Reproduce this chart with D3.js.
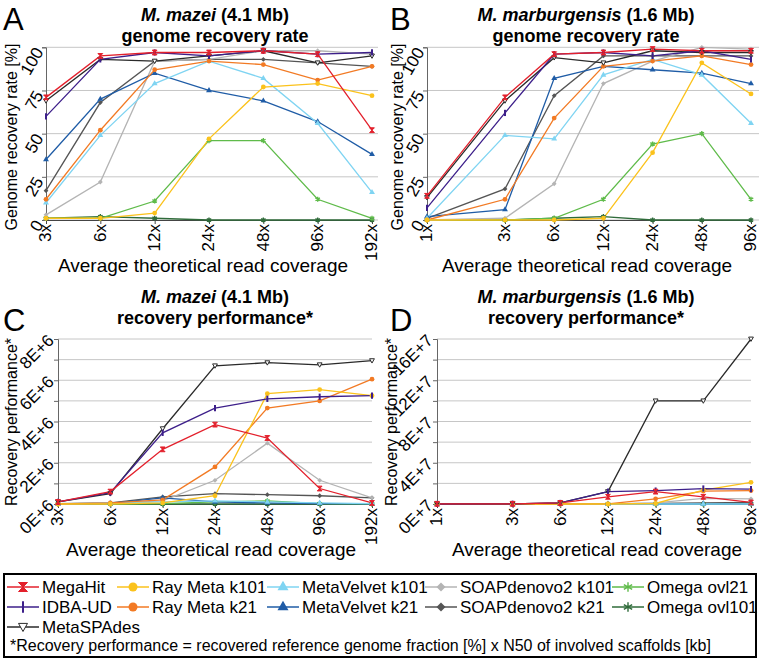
<!DOCTYPE html>
<html>
<head>
<meta charset="utf-8">
<script src="https://cdn.jsdelivr.net/npm/d3@7"></script>
<style>
body { margin: 0; background: #fff; }
text { font-family: "Liberation Sans", Arial, sans-serif; fill: #000; }
</style>
</head>
<body>
<svg id="chart" width="760" height="661"></svg>
<script>
// assemblers, in legend order
var assemblers = ["MegaHit", "IDBA-UD", "MetaSPAdes", "Ray Meta k101", "Ray Meta k21",
    "MetaVelvet k101", "MetaVelvet k21", "SOAPdenovo2 k101", "SOAPdenovo2 k21",
    "Omega ovl21", "Omega ovl101"];

var coverageMazei = [3, 6, 12, 24, 48, 96, 192];
var coverageMarb = [1, 3, 6, 12, 24, 48, 96];

// A: M. mazei genome recovery rate [%]
var rateMazei = [
    [71, 95, 97, 97, 98, 96, 52],   // MegaHit
    [60, 93, 97, 95, 98, 96, 97],   // IDBA-UD
    [69, 93, 92, 95, 98, 91, 95],   // MetaSPAdes
    [1, 1, 4, 47, 77, 79, 72],      // Ray Meta k101
    [12, 52, 87, 92, 90, 81, 89],   // Ray Meta k21
    [10, 49, 79, 92, 82, 56, 16],   // MetaVelvet k101
    [35, 70, 85, 75, 69, 57, 38],   // MetaVelvet k21
    [3, 22, 92, 93, 98, 98, 96],    // SOAPdenovo2 k101
    [17, 68, 92, 93, 93, 91, 89],   // SOAPdenovo2 k21
    [1, 1, 11, 46, 46, 12, 1],      // Omega ovl21
    [1, 2, 1, 0, 0, 0, 0]           // Omega ovl101
];

// B: M. marburgensis genome recovery rate [%]
var rateMarb = [
    [14, 71, 96, 97, 99, 98, 98],
    [7, 62, 96, 97, 95, 98, 93],
    [13, 69, 94, 91, 98, 97, 97],
    [0, 0, 0, 1, 39, 91, 73],
    [0, 12, 59, 89, 92, 95, 90],
    [1, 49, 47, 84, 93, 84, 56],
    [2, 6, 82, 89, 87, 85, 79],
    [0, 1, 21, 79, 92, 100, 99],
    [1, 18, 72, 95, 95, 95, 95],
    [0, 0, 1, 12, 44, 50, 12],
    [0, 0, 1, 2, 0, 0, 0]
];

// C: M. mazei recovery performance
var perfMazei = [
    [0.1e6, 0.6e6, 2.65e6, 3.85e6, 3.2e6, 0.75e6, 0.05e6],
    [0.1e6, 0.55e6, 3.45e6, 4.65e6, 5.1e6, 5.2e6, 5.25e6],
    [0.1e6, 0.5e6, 3.65e6, 6.7e6, 6.85e6, 6.75e6, 6.95e6],
    [0, 0, 0.05e6, 0.4e6, 5.35e6, 5.55e6, 5.25e6],
    [0, 0.05e6, 0.2e6, 1.8e6, 4.65e6, 5.0e6, 6.05e6],
    [0, 0.05e6, 0.1e6, 0.15e6, 0.1e6, 0.05e6, 0.02e6],
    [0, 0.03e6, 0.3e6, 0.1e6, 0.05e6, 0.02e6, 0.01e6],
    [0, 0.02e6, 0.15e6, 1.15e6, 2.95e6, 1.15e6, 0.3e6],
    [0.02e6, 0.05e6, 0.35e6, 0.5e6, 0.45e6, 0.4e6, 0.3e6],
    [0, 0, 0.02e6, 0.1e6, 0.15e6, 0.02e6, 0],
    [0, 0, 0, 0, 0, 0, 0]
];

// D: M. marburgensis recovery performance
var perfMarb = [
    [0.02e7, 0.02e7, 0.1e7, 0.7e7, 1.2e7, 0.7e7, 0.15e7],
    [0, 0.02e7, 0.1e7, 1.2e7, 1.3e7, 1.5e7, 1.45e7],
    [0.02e7, 0.02e7, 0.1e7, 1.2e7, 10e7, 10e7, 16e7],
    [0, 0, 0, 0, 0.05e7, 1.35e7, 2.1e7],
    [0, 0, 0, 0.02e7, 0.5e7, 1.25e7, 1.3e7],
    [0, 0, 0, 0, 0, 0, 0],
    [0, 0, 0, 0, 0, 0, 0],
    [0, 0, 0, 0, 0.1e7, 0.55e7, 0.5e7],
    [0, 0, 0, 0.02e7, 0.05e7, 0.1e7, 0.15e7],
    [0, 0, 0, 0, 0, 0, 0],
    [0, 0, 0, 0, 0, 0, 0]
];

var rateTicks = [0, 25, 50, 75, 100];
var perfMazeiTicks = [0, 2e6, 4e6, 6e6, 8e6];
var perfMarbTicks = [0, 4e7, 8e7, 12e7, 16e7];

var colors = ["#e3202c", "#3d1f8a", "#2a2a2a", "#fbc21c", "#f27a24", "#7fd4f2",
    "#1f5ca6", "#b4b4b4", "#555555", "#5fbb4a", "#2f6b3a"];
var shapes = ["hourglass", "bar", "triOpen", "circle", "circle", "tri", "tri",
    "diamond", "diamond", "star", "star"];

var svg = d3.select("#chart");

function marker(g, type, color, s) {
    if (type === "hourglass") {
        g.append("path")
            .attr("d", "M" + (-s) + "," + (-s) + "H" + s + "L" + (-s) + "," + s + "H" + s + "Z")
            .attr("fill", color).attr("stroke", color).attr("stroke-width", 1);
    } else if (type === "bar") {
        g.append("path").attr("d", "M0," + (-s * 1.3) + "V" + (s * 1.3))
            .attr("stroke", color).attr("stroke-width", 2);
    } else if (type === "triOpen") {
        g.append("path")
            .attr("d", "M" + (-s) + "," + (-s * 0.8) + "H" + s + "L0," + s + "Z")
            .attr("fill", "#fff").attr("stroke", color).attr("stroke-width", 1);
    } else if (type === "circle") {
        g.append("circle").attr("r", s).attr("fill", color);
    } else if (type === "tri") {
        g.append("path").attr("d", d3.symbol(d3.symbolTriangle, s * s * 2.6)).attr("fill", color);
    } else if (type === "diamond") {
        g.append("path").attr("d", "M0," + (-s) + "L" + s + ",0L0," + s + "L" + (-s) + ",0Z").attr("fill", color);
    } else if (type === "star") {
        g.append("path").attr("d", d3.symbol(d3.symbolAsterisk, s * s * 3.2))
            .attr("fill", "none").attr("stroke", color).attr("stroke-width", 1.4);
    }
}

function panel(cfg) {
    var x = d3.scaleLog().domain(d3.extent(cfg.cov)).range([cfg.left, cfg.right]);
    var y = d3.scaleLinear().domain([0, cfg.ymax]).range([cfg.bottom, cfg.top]);
    var g = svg.append("g");

    g.selectAll("line.grid")
        .data(cfg.grid)
        .enter()
        .append("line")
        .attr("class", "grid")
        .attr("x1", cfg.left).attr("x2", cfg.right + cfg.gridExtra)
        .attr("y1", function (d) { return y(d); })
        .attr("y2", function (d) { return y(d); })
        .attr("stroke", "#c6c6c6").attr("stroke-width", 1);

    var ya = g.append("g")
        .attr("transform", "translate(" + cfg.left + ",0)")
        .call(d3.axisLeft(y).tickValues(cfg.grid).tickSize(4).tickFormat(function (d) {
            return cfg.yticks.indexOf(d) >= 0 ? cfg.fmt(d) : "";
        }));
    ya.attr("font-size", 17).attr("font-family", null);
    ya.select(".domain").attr("stroke", "#666");
    ya.selectAll(".tick line").attr("stroke", "#666");
    ya.selectAll("text")
        .attr("x", 0).attr("y", 0).attr("dy", 0)
        .attr("text-anchor", "end")
        .attr("transform", "translate(" + cfg.ylabDx + "," + cfg.ylabDy + ") rotate(" + cfg.yrot + ")");

    var xa = g.append("g")
        .attr("transform", "translate(0," + cfg.bottom + ")")
        .call(d3.axisBottom(x).tickValues(cfg.cov).tickSize(4).tickFormat(function (d) { return d + "x"; }));
    xa.attr("font-size", 17).attr("font-family", null);
    xa.select(".domain").attr("stroke", "#444");
    xa.selectAll(".tick line").attr("stroke", "#444");
    xa.selectAll("text")
        .attr("x", -4).attr("y", 0).attr("dy", "0.28em")
        .attr("text-anchor", "end")
        .attr("transform", "rotate(-90)");

    var line = d3.line()
        .x(function (d, i) { return x(cfg.cov[i]); })
        .y(function (d) { return y(d); });

    // draw last series first so MegaHit ends on top
    var order = d3.range(assemblers.length).reverse();
    order.forEach(function (k) {
        g.append("path")
            .datum(cfg.values[k])
            .attr("d", line)
            .attr("fill", "none")
            .attr("stroke", colors[k])
            .attr("stroke-width", 1.3);
    });
    order.forEach(function (k) {
        cfg.values[k].forEach(function (v, i) {
            var m = g.append("g").attr("transform", "translate(" + x(cfg.cov[i]) + "," + y(v) + ")");
            marker(m, shapes[k], colors[k], 2.4);
        });
    });

    // title line 1: italic species + size, laid side by side and centred
    var sp = g.append("text").attr("y", cfg.titleY)
        .attr("font-size", 18).attr("font-weight", "bold").attr("font-style", "italic")
        .text(cfg.species);
    var sz = g.append("text").attr("y", cfg.titleY)
        .attr("font-size", 18).attr("font-weight", "bold")
        .text(cfg.size);
    var w1 = sp.node().getComputedTextLength(), w2 = sz.node().getComputedTextLength(), gap = 5;
    var x0 = cfg.cx - (w1 + gap + w2) / 2;
    sp.attr("x", x0);
    sz.attr("x", x0 + w1 + gap);

    g.append("text").attr("x", cfg.cx).attr("y", cfg.titleY + 21)
        .attr("text-anchor", "middle").attr("font-size", 18).attr("font-weight", "bold")
        .text(cfg.subtitle);

    g.append("text").attr("x", cfg.letterX).attr("y", cfg.letterY)
        .attr("font-size", 31).text(cfg.letter);

    g.append("text").attr("x", cfg.xtitleX).attr("y", cfg.xtitleY)
        .attr("text-anchor", "middle").attr("font-size", 19)
        .text("Average theoretical read coverage");

    g.append("text")
        .attr("transform", "translate(" + cfg.ytitleX + "," + cfg.ytitleY + ") rotate(-90)")
        .attr("text-anchor", "middle").attr("font-size", 16)
        .text(cfg.ytitle);
}

panel({
    letter: "A", letterX: 3, letterY: 30,
    species: "M. mazei", size: "(4.1 Mb)", subtitle: "genome recovery rate",
    cx: 215, titleY: 21,
    cov: coverageMazei, values: rateMazei,
    left: 46, right: 372, top: 47.3, bottom: 220, ymax: 100, gridExtra: 6,
    grid: rateTicks, yticks: rateTicks, fmt: String,
    yrot: -60, ylabDx: -2, ylabDy: 4,
    xtitleX: 203, xtitleY: 272,
    ytitle: "Genome recovery rate [%]", ytitleX: 17, ytitleY: 137
});

panel({
    letter: "B", letterX: 390, letterY: 30,
    species: "M. marburgensis", size: "(1.6 Mb)", subtitle: "genome recovery rate",
    cx: 586, titleY: 21,
    cov: coverageMarb, values: rateMarb,
    left: 427, right: 751, top: 47.3, bottom: 220, ymax: 100, gridExtra: 8,
    grid: rateTicks, yticks: rateTicks, fmt: String,
    yrot: -60, ylabDx: -2, ylabDy: 4,
    xtitleX: 587, xtitleY: 272,
    ytitle: "Genome recovery rate [%]", ytitleX: 403, ytitleY: 137
});

panel({
    letter: "C", letterX: 3, letterY: 331,
    species: "M. mazei", size: "(4.1 Mb)", subtitle: "recovery performance*",
    cx: 215, titleY: 303,
    cov: coverageMazei, values: perfMazei,
    left: 58, right: 372, top: 339, bottom: 504, ymax: 8e6, gridExtra: 0,
    grid: d3.range(0, 8e6 + 1, 1e6), yticks: perfMazeiTicks,
    fmt: function (d) { return (d / 1e6) + "E+6"; },
    yrot: -45, ylabDx: -3, ylabDy: 2,
    xtitleX: 211, xtitleY: 556,
    ytitle: "Recovery performance*", ytitleX: 17, ytitleY: 422
});

panel({
    letter: "D", letterX: 390, letterY: 331,
    species: "M. marburgensis", size: "(1.6 Mb)", subtitle: "recovery performance*",
    cx: 586, titleY: 303,
    cov: coverageMarb, values: perfMarb,
    left: 437, right: 751, top: 339, bottom: 504, ymax: 16e7, gridExtra: 0,
    grid: d3.range(0, 16e7 + 1, 2e7), yticks: perfMarbTicks,
    fmt: function (d) { return (d / 1e7) + "E+7"; },
    yrot: -45, ylabDx: -3, ylabDy: 2,
    xtitleX: 597, xtitleY: 556,
    ytitle: "Recovery performance*", ytitleX: 397, ytitleY: 422
});

// legend
var legend = svg.append("g");
legend.append("rect")
    .attr("x", 4).attr("y", 574).attr("width", 752).attr("height", 83)
    .attr("fill", "#fff").attr("stroke", "#000").attr("stroke-width", 2);

var legendX = [7, 117, 267, 425, 612];
var legendY = [587, 607, 627];
var legendCol = [0, 0, 0, 1, 1, 2, 2, 3, 3, 4, 4];
var legendRow = [0, 1, 2, 0, 1, 0, 1, 0, 1, 0, 1];

assemblers.forEach(function (name, k) {
    var lx = legendX[legendCol[k]], ly = legendY[legendRow[k]];
    var item = legend.append("g").attr("transform", "translate(" + lx + "," + ly + ")");
    item.append("line").attr("x1", 0).attr("x2", 32).attr("y1", 0).attr("y2", 0)
        .attr("stroke", colors[k]).attr("stroke-width", 1.5);
    marker(item.append("g").attr("transform", "translate(16,0)"), shapes[k], colors[k], 4.5);
    item.append("text").attr("x", 35).attr("y", 6).attr("font-size", 17).text(name);
});

legend.append("text").attr("x", 10).attr("y", 651).attr("font-size", 16)
    .text("*Recovery performance = recovered reference genome fraction [%] x N50 of involved scaffolds [kb]");
</script>
</body>
</html>
